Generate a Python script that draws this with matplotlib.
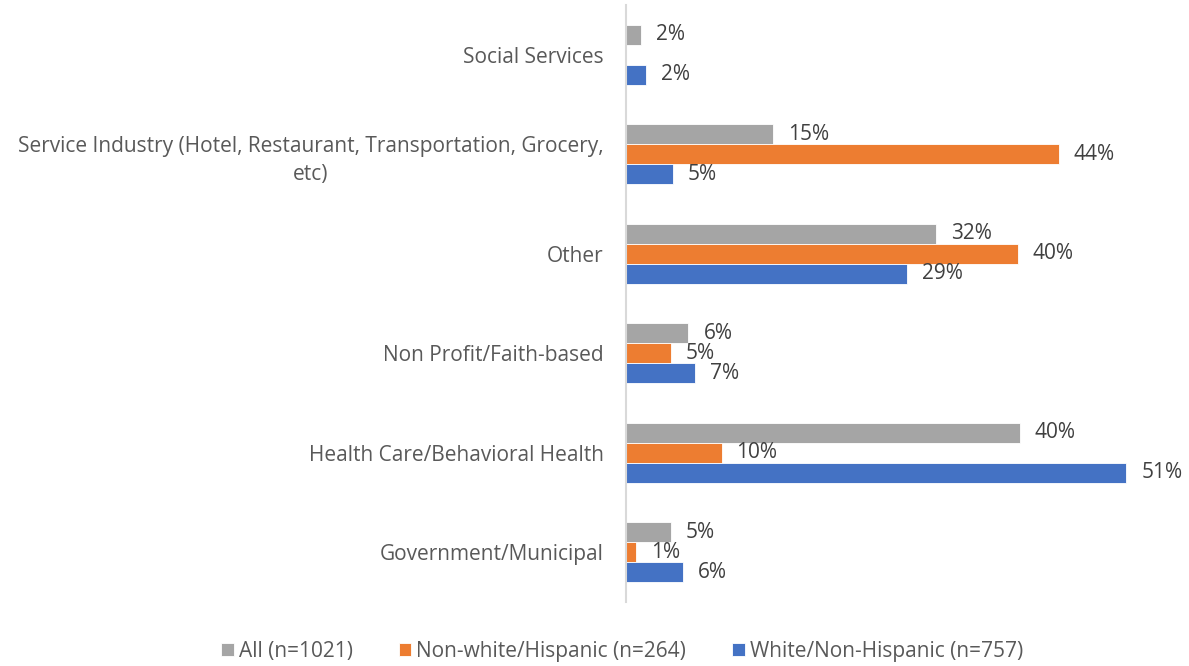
import matplotlib.pyplot as plt
import numpy as np

categories = [
    "Government/Municipal",
    "Health Care/Behavioral Health",
    "Non Profit/Faith-based",
    "Other",
    "Service Industry (Hotel, Restaurant, Transportation, Grocery,\netc)",
    "Social Services",
]
series_names = ["All (n=1021)", "Non-white/Hispanic (n=264)", "White/Non-Hispanic (n=757)"]
all_vals = [4.6, 40.4, 6.4, 31.8, 15.1, 1.55]
nonwhite_vals = [1.0, 9.8, 4.6, 40.2, 44.4, 0.0]
white_vals = [5.8, 51.3, 7.1, 28.8, 4.8, 2.05]
colors = ["#a5a5a5", "#ed7d31", "#4472c4"]

plt.rcParams["font.family"] = ["Open Sans", "DejaVu Sans"]
FS = 15

fig = plt.figure(figsize=(11.89, 6.66), dpi=100)
W, H = 1189, 666
left, right, top, bottom = 626, 1172, 5, 602
ax = fig.add_axes([left / W, 1 - bottom / H, (right - left) / W, (bottom - top) / H])

y = np.arange(len(categories))
bh = 0.2
offsets = [bh, 0, -bh]
series = [all_vals, nonwhite_vals, white_vals]
for vals, off, col, name in zip(series, offsets, colors, series_names):
    bars = ax.barh(y + off, vals, height=bh, color=col, edgecolor="white",
                   linewidth=0.6, label=name)
    for b, v in zip(bars, vals):
        if v <= 0:
            continue
        ax.annotate(f"{v:.0f}%", (v, b.get_y() + b.get_height() / 2),
                    xytext=(15, 0), textcoords="offset pixels",
                    va="center", ha="left", fontsize=FS, color="#404040")

ax.set_xlim(0, 56)
ax.set_ylim(-0.5, len(categories) - 0.5)
ax.set_yticks(y)
ax.set_yticklabels(categories, fontsize=FS, color="#595959",
                   multialignment="center", linespacing=1.45)
ax.tick_params(axis="y", length=0, pad=16)
ax.set_xticks([])
for s in ["top", "right", "bottom"]:
    ax.spines[s].set_visible(False)
ax.spines["left"].set_color("#d9d9d9")
ax.spines["left"].set_linewidth(1.5)

handles, labels = ax.get_legend_handles_labels()
fig.legend(handles, labels, loc="center", bbox_to_anchor=(622 / W, 1 - 651 / H),
           ncol=3, frameon=False, fontsize=FS, handlelength=0.6, handleheight=0.6,
           handletextpad=0.25, columnspacing=2.2, labelcolor="#595959")

fig.savefig("out.png", dpi=100)
